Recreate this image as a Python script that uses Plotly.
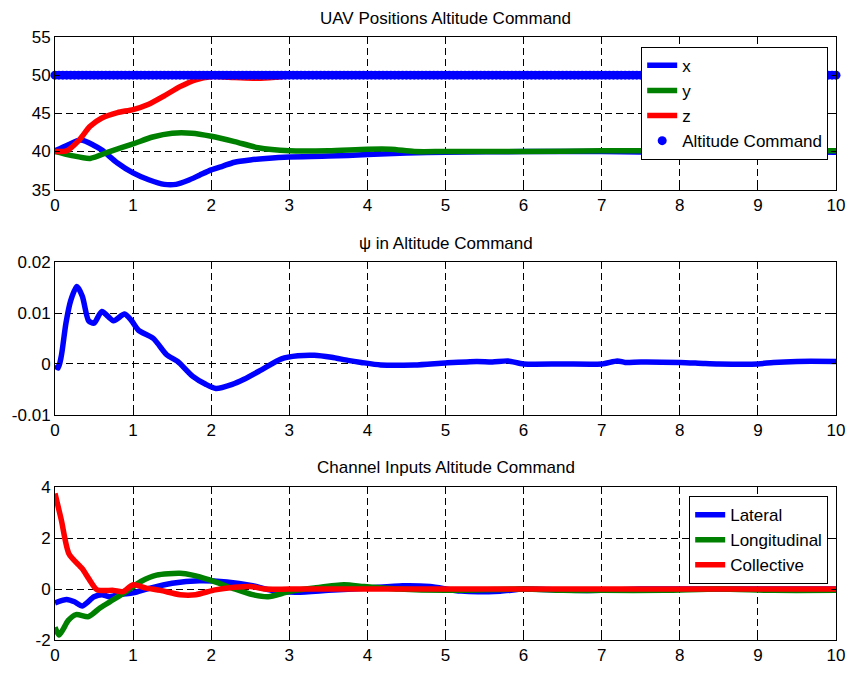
import numpy as np
import plotly.graph_objects as go

# ---------------- data ----------------
# Panel 1: UAV positions
pos_x_t = [0, 0.15, 0.33, 0.5, 0.6, 0.8, 1.0, 1.2, 1.4, 1.55, 1.7, 1.85, 2.0, 2.15, 2.3, 2.5, 2.7, 3.0, 3.5, 4.0, 4.5, 5.0, 6, 7, 8, 9, 10]
pos_x_v = [40.1, 40.8, 41.5, 40.8, 40.2, 38.5, 37.2, 36.3, 35.7, 35.7, 36.2, 36.9, 37.6, 38.1, 38.6, 38.9, 39.1, 39.3, 39.4, 39.6, 39.8, 39.9, 40.0, 40.0, 39.9, 40.0, 39.9]

pos_y_t = [0, 0.2, 0.45, 0.7, 1.0, 1.25, 1.5, 1.75, 2.0, 2.3, 2.6, 3.0, 3.5, 4.0, 4.3, 4.6, 5, 6, 7, 8, 9, 10]
pos_y_v = [40.0, 39.5, 39.1, 40.0, 41.0, 41.9, 42.4, 42.4, 42.0, 41.3, 40.5, 40.1, 40.1, 40.3, 40.3, 40.0, 40.0, 40.0, 40.1, 40.1, 40.1, 40.1]

pos_z_t = [0, 0.15, 0.3, 0.45, 0.6, 0.8, 1.0, 1.2, 1.4, 1.6, 1.8, 2.0, 2.3, 2.6, 2.9, 3.2, 4, 5, 6, 7, 8, 9, 10]
pos_z_v = [40.0, 40.1, 41.4, 43.3, 44.4, 45.1, 45.5, 46.2, 47.3, 48.5, 49.4, 49.8, 49.7, 49.6, 49.8, 50.0, 50, 50, 50, 50, 50, 50, 50]

cmd_t = list(np.round(np.arange(0, 10.0001, 0.05), 2))
cmd_value = 50
cmd_v = [cmd_value] * len(cmd_t)

# Panel 2: psi
psi_t = [0, 0.04, 0.08, 0.14, 0.2, 0.28, 0.35, 0.43, 0.5, 0.6, 0.75, 0.89, 0.98, 1.07, 1.26, 1.43, 1.57, 1.76, 1.93, 2.06, 2.27, 2.42, 2.65, 2.9, 3.11, 3.32, 3.54, 3.75, 3.92, 4.17, 4.6, 5.0, 5.4, 5.6, 5.8, 6.0, 6.5, 7.0, 7.2, 7.3, 7.5, 8.0, 8.3, 8.5, 9.0, 9.2, 9.5, 10]
psi_v = [-0.0003, -0.0008, 0.0015, 0.008, 0.0124, 0.0152, 0.0133, 0.0085, 0.008, 0.0103, 0.0085, 0.0098, 0.0085, 0.0066, 0.005, 0.0018, 0.0005, -0.0024, -0.004, -0.0048, -0.004, -0.003, -0.0011, 0.001, 0.0016, 0.0017, 0.0013, 0.0007, 0.0003, -0.0002, -0.0002, 0.0002, 0.0005, 0.0004, 0.0006, 0.0, 0.0, 0.0, 0.0006, 0.0003, 0.0004, 0.0003, 0.0001, 0.0, 0.0, 0.0003, 0.0005, 0.0005]

# Panel 3: channel inputs
lat_t = [0, 0.15, 0.25, 0.35, 0.5, 0.6, 0.7, 0.85, 1.0, 1.22, 1.5, 1.85, 2.2, 2.53, 2.82, 3.1, 3.5, 4.0, 4.45, 4.8, 5.2, 5.7, 6.0, 6.6, 7.0, 7.5, 8, 9, 10]
lat_v = [-0.54, -0.41, -0.5, -0.66, -0.3, -0.22, -0.3, -0.2, -0.15, 0.04, 0.23, 0.33, 0.28, 0.13, -0.08, -0.12, -0.05, 0.04, 0.13, 0.1, -0.08, -0.08, 0.0, -0.05, -0.05, 0.0, 0.0, 0.0, 0.0]

lon_t = [0, 0.05, 0.1, 0.17, 0.27, 0.43, 0.58, 0.75, 0.92, 1.1, 1.3, 1.6, 1.76, 1.98, 2.27, 2.53, 2.73, 3.0, 3.32, 3.7, 3.96, 4.4, 5, 6, 6.5, 7, 7.8, 8.5, 9.2, 10]
lon_v = [-1.5, -1.8, -1.6, -1.23, -1.0, -1.08, -0.73, -0.41, -0.08, 0.3, 0.55, 0.62, 0.55, 0.36, 0.04, -0.22, -0.3, -0.1, 0.04, 0.17, 0.1, 0.0, -0.05, 0.0, -0.05, -0.05, -0.05, 0.0, -0.05, -0.05]

col_t = [0, 0.08, 0.18, 0.35, 0.43, 0.54, 0.75, 0.87, 1.0, 1.17, 1.35, 1.6, 1.8, 2.05, 2.3, 2.5, 2.7, 3.0, 4, 5, 6, 7, 8, 9, 10]
col_v = [3.76, 2.73, 1.38, 0.8, 0.42, -0.03, -0.05, -0.1, 0.17, 0.04, -0.05, -0.22, -0.22, -0.03, 0.07, 0.1, 0.0, 0.0, 0.0, 0.0, 0.0, 0.0, 0.0, 0.0, 0.0]

x_ticks = list(range(0, 11))
y1_ticks = [35, 40, 45, 50, 55]
y2_ticks = [-0.01, 0, 0.01, 0.02]
y2_labels = ["-0.01", "0", "0.01", "0.02"]
y3_ticks = [-2, 0, 2, 4]
y3_labels = ["-2", "0", "2", "4"]

titles = ["UAV Positions Altitude Command", "\u03c8 in Altitude Command", "Channel Inputs Altitude Command"]

BLUE = "rgb(0,0,255)"
GREEN = "rgb(0,128,0)"
RED = "rgb(255,0,0)"
LW = 5.5
FONT = "Liberation Sans, Arial, sans-serif"

fig = go.Figure()

def line(t, v, color, name, xa, ya, legend, show=True):
    fig.add_trace(go.Scatter(x=t, y=v, mode="lines", name=name, xaxis=xa, yaxis=ya,
                             line=dict(color=color, width=LW, shape="spline", smoothing=0.7),
                             showlegend=show, legend=legend))

line(pos_x_t, pos_x_v, BLUE, "x", "x", "y", "legend")
line(pos_y_t, pos_y_v, GREEN, "y", "x", "y", "legend")
line(pos_z_t, pos_z_v, RED, "z", "x", "y", "legend")
fig.add_trace(go.Scatter(x=cmd_t, y=cmd_v, mode="markers", name="Altitude Command",
                         xaxis="x", yaxis="y", legend="legend", cliponaxis=False,
                         marker=dict(color=BLUE, size=9, line=dict(width=0))))

line(psi_t, psi_v, BLUE, "psi", "x2", "y2", "legend", show=False)

line(lat_t, lat_v, BLUE, "Lateral", "x3", "y3", "legend2")
line(lon_t, lon_v, GREEN, "Longitudinal", "x3", "y3", "legend2")
line(col_t, col_v, RED, "Collective", "x3", "y3", "legend2")

H = 616.0
def py(pix):
    return (653 - pix) / H

axis_common = dict(showline=True, linecolor="black", linewidth=1, mirror="ticks",
                   ticks="inside", ticklen=5, tickcolor="black",
                   showgrid=True, gridcolor="black", gridwidth=1, griddash="7px,4px",
                   zeroline=False, tickfont=dict(size=17, color="black", family=FONT))

domains = [[py(193), 1.0], [py(423), py(267)], [0.0, py(497)]]

layout = dict(
    width=857, height=677,
    margin=dict(l=54, r=13, t=37, b=24),
    paper_bgcolor="white", plot_bgcolor="white",
    font=dict(family=FONT, size=17, color="black"),
    legend=dict(x=0.99, xanchor="right", y=py(47), yanchor="top",
                bgcolor="white", bordercolor="black", borderwidth=1,
                font=dict(size=17, family=FONT), itemwidth=30),
    legend2=dict(x=0.99, xanchor="right", y=py(506), yanchor="top",
                 bgcolor="white", bordercolor="black", borderwidth=1,
                 font=dict(size=17, family=FONT), itemwidth=30),
)
for i, (xa, ya) in enumerate([("xaxis", "yaxis"), ("xaxis2", "yaxis2"), ("xaxis3", "yaxis3")]):
    suffix = "" if i == 0 else str(i + 1)
    layout[xa] = dict(axis_common, domain=[0, 1], range=[0, 10], tickvals=x_ticks,
                      anchor="y" + suffix)
    if i == 0:
        layout[ya] = dict(axis_common, domain=domains[0], range=[35, 55], tickvals=y1_ticks,
                          anchor="x")
    elif i == 1:
        layout[ya] = dict(axis_common, domain=domains[1], range=[-0.01, 0.02], tickvals=y2_ticks,
                          ticktext=y2_labels, anchor="x2")
    else:
        layout[ya] = dict(axis_common, domain=domains[2], range=[-2, 4], tickvals=y3_ticks,
                          ticktext=y3_labels, anchor="x3")

fig.update_layout(**layout)

title_pix = [18, 248, 477]
for txt, tp in zip(titles, title_pix):
    fig.add_annotation(text=txt, x=0.5, xref="paper", y=py(tp), yref="paper",
                       xanchor="center", yanchor="middle", showarrow=False,
                       font=dict(size=17, family=FONT, color="black"))

fig.write_html("out.html")
